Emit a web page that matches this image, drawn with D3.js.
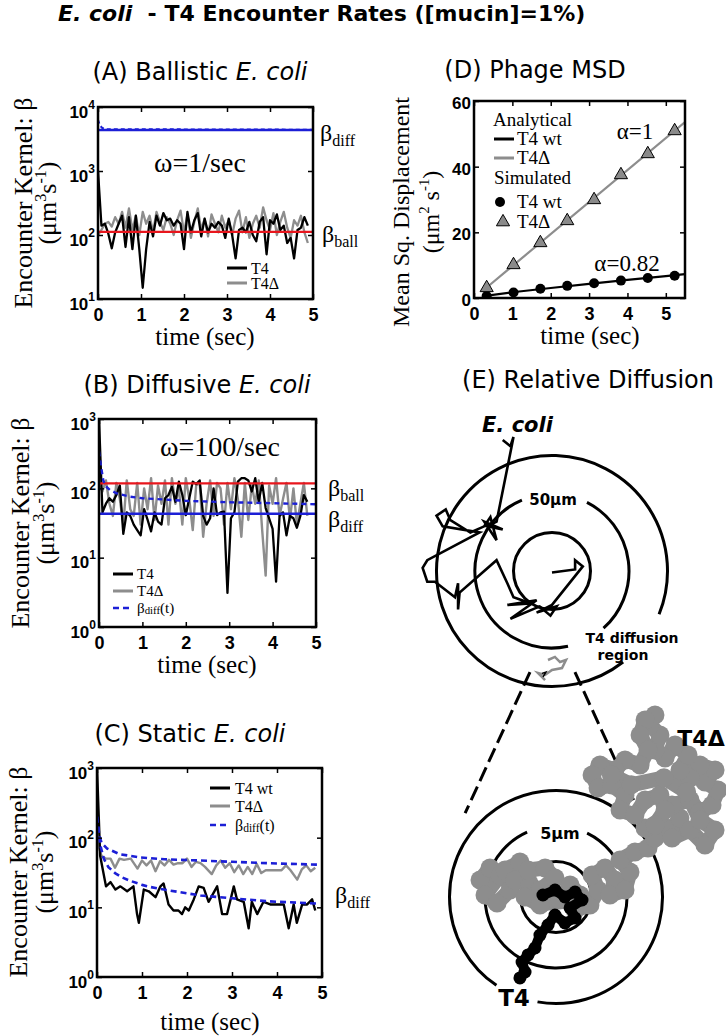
<!DOCTYPE html>
<html><head><meta charset="utf-8">
<script src="https://cdn.jsdelivr.net/npm/d3@7/dist/d3.min.js"></script>
<style>html,body{margin:0;padding:0;background:#fff}svg{display:block}</style>
</head><body>
<svg id="chart" width="726" height="1036" xmlns="http://www.w3.org/2000/svg"></svg>
<script>
// ================= DATA =================
const sampleDt = 0.08;               // sampling step of the simulated traces (sec)
const timeTicks = [0, 1, 2, 3, 4, 5];
const logTicksA = [10, 100, 1000, 10000];
const logTicksBC = [1, 10, 100, 1000];
const msdTimeTicks = [0, 1, 2, 3, 4, 5];
const msdValueTicks = [0, 20, 40, 60];

// (A) Ballistic E. coli, omega = 1/sec
const ballisticT4 = [1000,140,150,105,62,110,150,200,65,190,60,200,60,15,60,160,95,200,140,220,170,180,140,170,150,60,230,110,170,220,95,180,110,150,130,160,140,90,180,100,43,120,130,110,160,100,80,160,190,50,170,150,210,120,140,75,90,43,120,130,190,140];
const ballisticT4d = [100,120,150,160,135,190,150,230,130,260,120,200,100,230,150,200,110,230,160,120,190,150,100,170,240,110,210,90,160,260,120,180,95,210,150,110,200,130,170,100,180,240,110,190,90,150,200,130,270,170,120,220,100,160,230,130,90,170,140,200,110,75];
const ballisticFitT = [0, 0.03, 0.06, 0.1, 0.2, 5];
const ballisticFitV = [6300, 5500, 5000, 4700, 4500, 4420];
const ballisticBetaBall = 112;
const ballisticBetaDiff = 4370;

// (B) Diffusive E. coli, omega = 100/sec
const diffusiveT4 = [1000,45,60,72,64,80,110,22,45,40,30,25,21,50,35,24,45,33,30,72,80,105,64,125,80,41,72,125,115,130,40,30,37,100,41,45,46,3.1,37,45,125,140,140,130,90,140,64,120,52,37,26,4.5,40,45,21,40,37,27,40,80,64];
const diffusiveT4d = [110,90,130,60,40,120,70,30,130,50,40,120,30,100,50,140,35,110,60,130,30,140,60,100,30,140,70,25,110,120,20,60,130,40,120,100,30,120,50,140,70,20,120,35,110,60,130,25,5.5,110,60,140,40,70,120,35,100,30,60,120,40];
const diffusiveFitT = [0, 0.05, 0.1, 0.15, 0.25, 0.4, 0.7, 1.0, 1.5, 2, 3, 4, 5];
const diffusiveFitV = [340, 200, 130, 108, 95, 85, 76, 72, 69, 66, 63, 61, 59];
const diffusiveBetaBall = 118;
const diffusiveBetaDiff = 43;

// (C) Static E. coli
const staticT4T = [0,0.07,0.2,0.3,0.41,0.52,0.67,0.81,0.89,0.93,1.04,1.15,1.3,1.41,1.48,1.59,1.7,1.81,1.89,1.96,2.04,2.15,2.26,2.37,2.48,2.67,2.78,2.89,3.04,3.11,3.26,3.37,3.44,3.56,3.7,3.85,4.0,4.15,4.26,4.37,4.44,4.56,4.67,4.78,4.85];
const staticT4V = [1000,55,20,23,18,20,17,20,8,6,18,17,14,20,22,11,9,9,8,10,9,13,20,19,12,20,8,8,20,13,12,5,12,8,12,11,11,11,5,11,6,11,11,13,9];
const staticT4dT = [0,0.1,0.2,0.3,0.4,0.5,0.6,0.75,0.9,1.0,1.1,1.2,1.3,1.4,1.5,1.6,1.7,1.8,1.9,2.0,2.1,2.2,2.3,2.4,2.55,2.65,2.75,2.85,2.95,3.05,3.15,3.25,3.35,3.45,3.55,3.65,3.75,3.85,4.0,4.1,4.2,4.3,4.45,4.55,4.65,4.75,4.85];
const staticT4dV = [90,55,50,50,37,50,48,50,36,47,40,47,33,46,40,48,41,43,43,50,38,45,43,38,30,40,47,37,43,32,40,30,38,30,42,31,34,34,34,34,40,34,25,35,40,33,37];
const staticFitT4dT = [0, 0.05, 0.1, 0.22, 0.5, 0.96, 1.5, 2.3, 3, 3.8, 4.9];
const staticFitT4dV = [200, 110, 85, 70, 58, 52, 49, 47, 45, 43, 41];
const staticFitT4T = [0, 0.07, 0.15, 0.25, 0.4, 0.55, 0.74, 1.0, 1.2, 1.6, 2.3, 3.0, 3.8, 4.3, 4.9];
const staticFitT4V = [200, 80, 50, 38, 31, 27, 24, 21, 19.5, 17.5, 14.8, 13.5, 12.2, 11.8, 11.3];

// (D) Phage MSD
const msdTimes = [0.33, 1.03, 1.73, 2.43, 3.13, 3.83, 4.53, 5.23];
const msdSimT4wt = [0.6, 1.7, 2.8, 3.7, 4.5, 5.3, 6.1, 6.8];
const msdSimT4d = [3.4, 10.4, 17.1, 23.8, 30.2, 37.8, 44.2, 51.2];
const msdFitT4dT = [0.3, 5.5];
const msdFitT4dV = [2.9, 53.6];
const msdFitT4wtT = [0.25, 1, 2, 3, 4, 5, 5.5];
const msdFitT4wtV = [0.55, 1.75, 3.05, 4.3, 5.5, 6.65, 7.3];

// (E) Relative diffusion (trajectories in micrometres)
const ringsTopUm = [25, 50, 75];
const ringsBottomUm = [2.5, 5, 7.5];
const eColiTrack = [[-32,-85],[-27,-81],[-25,-87],[-26,-82],[-36,-32],[-42,-29],[-32,-27],[-44,-32],[-36,-20],[-40,-35],[-44,-29],[-53,-25],[-66,-33],[-69,-40],[-75,-36],[-71,-29],[-47,-25],[-81,-7],[-84,-2],[-81,7],[-76,7],[-63,17],[-61,8],[-61,25],[-60,14],[-36,-7],[-29,8],[-25,17],[-14,21],[-29,22],[-10,19],[-27,31],[-8,23],[-1,29],[3,23],[-10,27],[0,22],[20,-3],[15,-7],[15,-1],[0,1]];
const phageSmallT4d = [[-2.6,57.8],[1.9,55.8],[5.2,59.1],[9.1,57.8],[6.5,63],[0,64.3],[-4.5,67.5],[-9.1,66.2],[-4.5,70.8]];
const phageSmallT4 = [[-5.8,68.8],[-3.9,65.6],[-6.5,66.5]];
const phageT4dTrack = [[-5.35,-1.2],[-4.65,-2.04],[-3.94,-1.55],[-5.0,-0.14],[-4.15,0.42],[-3.24,-0.49],[-3.59,-1.9],[-2.54,-2.46],[-2.89,-1.2],[-1.83,-0.85],[-1.97,-1.9],[-0.77,-2.04],[-0.07,-1.34],[-1.13,-0.49],[-2.18,0],[-1.13,0.56],[0.28,0.21],[0.99,-0.85],[1.69,-0.14],[1.34,0.92],[2.39,0.56],[2.96,-0.49],[2.54,-1.55],[3.45,-2.04],[4.15,-1.2],[3.8,-0.14],[4.86,-0.49],[5.21,-1.76],[4.51,-2.61],[5.56,-3.17],[6.48,-3.45],[6.97,-4.15],[6.27,-4.86],[7.32,-5.28],[8.03,-4.72],[8.73,-5.56],[8.17,-6.48],[9.44,-6.83],[10.14,-5.99],[10.99,-6.48],[11.41,-7.54],[10.49,-8.1],[11.2,-8.94],[10.14,-9.3],[9.44,-8.38],[8.73,-8.94],[9.3,-10.0],[8.38,-10.7],[7.68,-9.79],[6.97,-10.35],[7.32,-11.41],[6.62,-12.11],[6.97,-12.82],[6.27,-12.46],[5.92,-11.41],[6.48,-10.35],[5.92,-9.3],[4.86,-9.65],[4.15,-8.94],[3.1,-9.3],[2.54,-8.59],[2.96,-7.68],[3.94,-7.89],[4.86,-7.18],[4.51,-6.13],[5.56,-5.77],[6.27,-6.83],[7.32,-7.18],[7.68,-6.13],[6.97,-5.07],[8.17,-4.15],[9.44,-4.72],[10.49,-3.66],[11.2,-4.72],[10.14,-5.42],[9.2,-7.4],[7.6,-8.4],[5.3,-7.9],[3.9,-8.6]];
const phageT4Track = [[-0.92,-0.14],[-0.07,-0.49],[0.63,0],[1.34,-0.35],[1.83,0.21],[0.99,0.77],[1.34,1.48],[0.63,1.83],[-0.07,1.27],[-0.56,1.97],[-1.13,2.68],[-1.48,3.59],[-1.97,4.08],[-2.39,4.58],[-2.18,5.28],[-2.54,5.7]];
const zoomLinks = [{top:[-14.3,65.6], bottom:[-6.4,-5.9]}, {top:[14.9,65.6], bottom:[5.7,-6.3]}];

// ================= DRAWING =================
const svg = d3.select('#chart');
const defs = svg.append('defs');
const SERIF = "'Liberation Serif','Times New Roman',serif";
const SANS = "'DejaVu Sans',Verdana,sans-serif";
const TICKF = "'Liberation Sans',Arial,sans-serif";
const RED = '#e8161d', BLUE = '#1c1fd6', GRAY = '#8d8d8d';

function txt(x, y, s, o = {}) {
  return svg.append('text').attr('x', x).attr('y', y)
    .attr('font-family', o.ff || SERIF).attr('font-size', o.fs || 20)
    .attr('font-weight', o.fw || null).attr('font-style', o.it ? 'italic' : null)
    .attr('text-anchor', o.anchor || 'start').attr('fill', o.fill || '#000').text(s);
}

// main title
const title = svg.append('text').attr('x', 58).attr('y', 21)
  .attr('font-family', SANS).attr('font-size', 22).attr('font-weight', 'bold')
  .style('white-space', 'pre');
title.append('tspan').attr('font-style', 'italic').text('E. coli');
title.append('tspan').text('  - T4 Encounter Rates ([mucin]=1%)');

function panelTitle(cx, y, a, b) {
  const t = svg.append('text').attr('x', cx).attr('y', y).attr('text-anchor', 'middle')
    .attr('font-family', SANS).attr('font-size', 24).style('white-space', 'pre');
  t.append('tspan').text(a);
  if (b) t.append('tspan').attr('font-style', 'italic').text(b);
}

function rotLabel(x, y, size, parts) {
  const t = svg.append('text').attr('transform', `translate(${x},${y}) rotate(-90)`)
    .attr('text-anchor', 'middle').attr('font-family', SERIF).attr('font-size', size);
  parts.forEach(p => {
    const s = t.append('tspan').text(p.s);
    if (p.sup) s.attr('font-size', size * 0.62);
    if (p.dy) s.attr('dy', p.dy);
  });
}
const unitsParts = [{s: '(μm'}, {s: '3', sup: true, dy: -10}, {s: 's', dy: 10},
                    {s: '-1', sup: true, dy: -10}, {s: ')', dy: 10}];

function betaLabel(x, y, sub) {
  const t = svg.append('text').attr('x', x).attr('y', y).attr('font-family', SERIF).attr('font-size', 24);
  t.append('tspan').text('β');
  t.append('tspan').attr('font-size', 16).attr('dy', 5).text(sub);
}

function makePanel(id, box, xdom, y) {
  const x = d3.scaleLinear().domain(xdom).range([box[0], box[1]]);
  defs.append('clipPath').attr('id', 'clip' + id).append('rect')
    .attr('x', box[0]).attr('y', box[2]).attr('width', box[1] - box[0]).attr('height', box[3] - box[2]);
  const plot = svg.append('g').attr('clip-path', `url(#clip${id})`);
  const axes = svg.append('g');
  return {x, y, plot, axes, box};
}

function frame(P, xticks, yticks, isLog) {
  const [x0, x1, y0, y1] = P.box;
  const g = P.axes;
  const L = g.append('g').attr('transform', `translate(${x0},0)`)
    .call(d3.axisLeft(P.y).tickValues(yticks).tickFormat(d3.format('d')).tickSizeInner(-5).tickSizeOuter(0).tickPadding(3));
  g.append('g').attr('transform', `translate(${x1},0)`)
    .call(d3.axisRight(P.y).tickValues(yticks).tickSizeInner(-5).tickSizeOuter(0).tickFormat(''));
  const B = g.append('g').attr('transform', `translate(0,${y1})`)
    .call(d3.axisBottom(P.x).tickValues(xticks).tickFormat(d3.format('d')).tickSizeInner(-5).tickSizeOuter(0).tickPadding(9));
  g.append('g').attr('transform', `translate(0,${y0})`)
    .call(d3.axisTop(P.x).tickValues(xticks).tickSizeInner(-5).tickSizeOuter(0).tickFormat(''));
  g.selectAll('.domain').remove();
  g.selectAll('g').attr('font-family', null).attr('font-size', null);
  g.selectAll('.tick line').attr('stroke', '#000').attr('stroke-width', 1.5);
  g.selectAll('.tick text').attr('font-family', TICKF).attr('font-size', 17)
    .attr('font-weight', 'bold').attr('fill', '#000');
  B.selectAll('.tick text').attr('font-size', 18);
  if (isLog) {
    L.selectAll('.tick text').each(function (d) {
      const t = d3.select(this);
      t.text(null).attr('dy', null).attr('y', 10);
      t.append('tspan').text('10');
      t.append('tspan').attr('dy', -9).attr('font-size', 12).text(Math.round(Math.log10(d)));
    });
  } else {
    L.selectAll('.tick text').attr('y', 2);
  }
  g.append('rect').attr('x', x0).attr('y', y0).attr('width', x1 - x0).attr('height', y1 - y0)
    .attr('fill', 'none').attr('stroke', '#000').attr('stroke-width', 2.5);
}

function pathOn(P, pts, color, w, dash) {
  const line = d3.line().x(d => P.x(d[0])).y(d => P.y(d[1]));
  P.plot.append('path').attr('d', line(pts)).attr('fill', 'none').attr('stroke', color)
    .attr('stroke-width', w).attr('stroke-dasharray', dash || null).attr('stroke-linejoin', 'round');
}
const sampled = arr => arr.map((v, i) => [i * sampleDt, v]);
const zipTV = (t, v) => t.map((ti, i) => [ti, v[i]]);
const hline = (v) => [[0, v], [5, v]];

function legendLine(x, y, color, dash, w) {
  svg.append('line').attr('x1', x).attr('x2', x + 20).attr('y1', y).attr('y2', y)
    .attr('stroke', color).attr('stroke-width', w || 3).attr('stroke-dasharray', dash || null);
}
function betaDiffT(x, y, fs) {
  const t = txt(x, y, 'β', {fs: fs});
  t.append('tspan').attr('font-size', fs * 0.72).attr('dy', 1).text('diff');
  t.append('tspan').attr('dy', -1).text('(t)');
}

// ---------- Panel A ----------
panelTitle(200, 80, '(A) Ballistic ', 'E. coli');
const PA = makePanel('A', [98, 313, 107, 299], [0, 5], d3.scaleLog().domain([10, 10000]).range([299, 107]));
pathOn(PA, sampled(ballisticT4d), GRAY, 2.3);
pathOn(PA, sampled(ballisticT4), '#000', 2.3);
pathOn(PA, hline(ballisticBetaBall), RED, 2.3);
pathOn(PA, hline(ballisticBetaDiff), BLUE, 2.3);
pathOn(PA, zipTV(ballisticFitT, ballisticFitV), BLUE, 2, '4,3');
frame(PA, timeTicks, logTicksA, true);
txt(200, 172, 'ω=1/sec', {fs: 28, anchor: 'middle'});
betaLabel(320, 141, 'diff');
betaLabel(322, 242, 'ball');
legendLine(227, 268, '#000'); txt(251, 274, 'T4', {fs: 16});
legendLine(227, 283, GRAY); txt(251, 289, 'T4Δ', {fs: 16});
txt(205, 345, 'time (sec)', {fs: 25, anchor: 'middle'});
rotLabel(32, 203, 26, [{s: 'Encounter Kernel: β'}]);
rotLabel(56, 203, 26, unitsParts);

// ---------- Panel B ----------
panelTitle(197, 393, '(B) Diffusive ', 'E. coli');
const PB = makePanel('B', [99, 316, 419, 627], [0, 5], d3.scaleLog().domain([1, 1000]).range([627, 419]));
pathOn(PB, sampled(diffusiveT4d), GRAY, 2.4);
pathOn(PB, sampled(diffusiveT4), '#000', 2.3);
pathOn(PB, hline(diffusiveBetaBall), RED, 2.3);
pathOn(PB, hline(diffusiveBetaDiff), BLUE, 2.3);
pathOn(PB, zipTV(diffusiveFitT, diffusiveFitV), BLUE, 2.4, '5,4');
frame(PB, timeTicks, logTicksBC, true);
txt(220, 456, 'ω=100/sec', {fs: 28, anchor: 'middle'});
betaLabel(328, 496, 'ball');
betaLabel(328, 527, 'diff');
legendLine(113, 574, '#000'); txt(137, 579, 'T4', {fs: 15});
legendLine(113, 591, GRAY); txt(137, 596, 'T4Δ', {fs: 15});
legendLine(113, 608, BLUE, '6,4', 2.5);
betaDiffT(137, 613, 15);
txt(207, 673, 'time (sec)', {fs: 25, anchor: 'middle'});
rotLabel(29, 523, 26, [{s: 'Encounter Kernel: β'}]);
rotLabel(54, 523, 26, unitsParts);

// ---------- Panel C ----------
panelTitle(190, 742, '(C) Static ', 'E. coli');
const PC = makePanel('C', [97, 322, 768, 977], [0, 5], d3.scaleLog().domain([1, 1000]).range([977, 768]));
pathOn(PC, zipTV(staticT4dT, staticT4dV), GRAY, 2.4);
pathOn(PC, zipTV(staticT4T, staticT4V), '#000', 2.4);
pathOn(PC, zipTV(staticFitT4dT, staticFitT4dV), BLUE, 2.6, '6,4');
pathOn(PC, zipTV(staticFitT4T, staticFitT4V), BLUE, 2.6, '6,4');
frame(PC, timeTicks, logTicksBC, true);
betaLabel(335, 903, 'diff');
legendLine(210, 788, '#000'); txt(235, 794, 'T4 wt', {fs: 16});
legendLine(210, 806, GRAY); txt(235, 812, 'T4Δ', {fs: 16});
legendLine(210, 825, BLUE, '6,4', 2.5);
betaDiffT(235, 831, 16);
txt(210, 1030, 'time (sec)', {fs: 25, anchor: 'middle'});
rotLabel(27, 872, 26, [{s: 'Encounter Kernel: β'}]);
rotLabel(53, 872, 26, unitsParts);

// ---------- Panel D ----------
panelTitle(535, 78, '(D) Phage MSD');
const PD = makePanel('D', [474, 685, 101, 298], [0, 5.5], d3.scaleLinear().domain([0, 60]).range([298, 101]));
pathOn(PD, zipTV(msdFitT4dT, msdFitT4dV), GRAY, 2.2);
pathOn(PD, zipTV(msdFitT4wtT, msdFitT4wtV), '#000', 2.2);
PD.plot.selectAll('circle.sim').data(msdTimes).enter().append('circle')
  .attr('cx', (d) => PD.x(d)).attr('cy', (d, i) => PD.y(msdSimT4wt[i])).attr('r', 5).attr('fill', '#000');
const tri = d3.symbol(d3.symbolTriangle).size(75);
PD.plot.selectAll('path.tri').data(msdTimes).enter().append('path')
  .attr('d', tri).attr('transform', (d, i) => `translate(${PD.x(d)},${PD.y(msdSimT4d[i]) + 1})`)
  .attr('fill', '#8a8a8a').attr('stroke', '#000').attr('stroke-width', 1);
frame(PD, msdTimeTicks, msdValueTicks, false);
txt(493, 126, 'Analytical', {fs: 19});
legendLine(494, 139, '#000'); txt(517, 145, 'T4 wt', {fs: 19});
legendLine(494, 158, GRAY); txt(517, 164, 'T4Δ', {fs: 19});
txt(494, 184, 'Simulated', {fs: 19});
svg.append('circle').attr('cx', 500).attr('cy', 202).attr('r', 5).attr('fill', '#000');
svg.append('path').attr('d', tri).attr('transform', 'translate(503,222)').attr('fill', '#8a8a8a').attr('stroke', '#000');
txt(517, 208, 'T4 wt', {fs: 19});
txt(517, 228, 'T4Δ', {fs: 19});
txt(635, 139, 'α=1', {fs: 23, anchor: 'middle'});
txt(627, 271, 'α=0.82', {fs: 23, anchor: 'middle'});
txt(590, 344, 'time (sec)', {fs: 25, anchor: 'middle'});
rotLabel(409, 212, 24, [{s: 'Mean Sq. Displacement'}]);
rotLabel(439, 212, 24, [{s: '(μm'}, {s: '2', sup: true, dy: -10}, {s: ' s', dy: 10}, {s: '-1', sup: true, dy: -10}, {s: ')', dy: 10}]);

// ---------- Panel E ----------
panelTitle(588, 388, '(E) Relative Diffusion');
const eTopX = d3.scaleLinear().domain([-75, 75]).range([436.5, 667.5]);
const eTopY = d3.scaleLinear().domain([-75, 75]).range([455.5, 686.5]);
const eBotX = d3.scaleLinear().domain([-7.5, 7.5]).range([449.5, 662.5]);
const eBotY = d3.scaleLinear().domain([-7.5, 7.5]).range([790.5, 1003.5]);
const deg = Math.PI / 180;
function ring(sx, sy, r, arcs) {
  const cx = sx(0), cy = sy(0), rp = sx(r) - sx(0);
  arcs.forEach(([a0, a1]) => {
    const p = d3.path();
    p.moveTo(cx + rp * Math.cos(a0 * deg), cy + rp * Math.sin(a0 * deg));
    p.arc(cx, cy, rp, a0 * deg, a1 * deg);
    svg.append('path').attr('d', p.toString()).attr('fill', 'none').attr('stroke', '#000').attr('stroke-width', 3);
  });
}
ring(eTopX, eTopY, ringsTopUm[0], [[0, 360]]);
ring(eTopX, eTopY, ringsTopUm[1], [[-63, 48], [78, 247]]);
ring(eTopX, eTopY, ringsTopUm[2], [[52, 382]]);
ring(eBotX, eBotY, ringsBottomUm[0], [[0, 360]]);
ring(eBotX, eBotY, ringsBottomUm[1], [[-64, 246]]);
ring(eBotX, eBotY, ringsBottomUm[2], [[124, 460]]);

const topLine = d3.line().x(d => eTopX(d[0])).y(d => eTopY(d[1]));
const botLine = d3.line().x(d => eBotX(d[0])).y(d => eBotY(d[1]));
svg.append('path').attr('d', topLine(eColiTrack)).attr('fill', 'none').attr('stroke', '#000')
  .attr('stroke-width', 2.6).attr('stroke-linejoin', 'miter');
svg.append('path').attr('d', topLine(phageSmallT4d)).attr('fill', 'none').attr('stroke', GRAY).attr('stroke-width', 2.5);
svg.append('path').attr('d', topLine(phageSmallT4)).attr('fill', 'none').attr('stroke', '#000').attr('stroke-width', 1.5);
zoomLinks.forEach(l => {
  svg.append('line').attr('x1', eTopX(l.top[0])).attr('y1', eTopY(l.top[1]))
    .attr('x2', eBotX(l.bottom[0])).attr('y2', eBotY(l.bottom[1]))
    .attr('stroke', '#000').attr('stroke-width', 3).attr('stroke-dasharray', '15,6');
});
// T4Δ cloud: thick trajectory plus lumps at each visited position
svg.append('path').attr('d', botLine(phageT4dTrack)).attr('fill', 'none')
  .attr('stroke', GRAY).attr('stroke-width', 15).attr('stroke-linejoin', 'round').attr('stroke-linecap', 'round');
svg.append('g').selectAll('circle').data(phageT4dTrack).enter().append('circle')
  .attr('cx', d => eBotX(d[0])).attr('cy', d => eBotY(d[1])).attr('r', 9.5).attr('fill', GRAY);
svg.append('path').attr('d', botLine(phageT4Track)).attr('fill', 'none')
  .attr('stroke', '#000').attr('stroke-width', 10).attr('stroke-linejoin', 'round').attr('stroke-linecap', 'round');
svg.append('g').selectAll('circle').data(phageT4Track).enter().append('circle')
  .attr('cx', d => eBotX(d[0])).attr('cy', d => eBotY(d[1])).attr('r', 6.5).attr('fill', '#000');

txt(482, 432, 'E. coli', {ff: SANS, fs: 21, fw: 'bold', it: true});
txt(553, 505, '50μm', {ff: SANS, fs: 15, fw: 'bold', anchor: 'middle'});
txt(632, 643, 'T4 diffusion', {ff: SANS, fs: 14, fw: 'bold', anchor: 'middle'});
txt(623, 660, 'region', {ff: SANS, fs: 14, fw: 'bold', anchor: 'middle'});
txt(560, 839, '5μm', {ff: SANS, fs: 16, fw: 'bold', anchor: 'middle'});
txt(701, 746, 'T4Δ', {ff: SANS, fs: 22, fw: 'bold', anchor: 'middle'});
txt(514, 1006, 'T4', {ff: SANS, fs: 23, fw: 'bold', anchor: 'middle'});
</script>
</body></html>
